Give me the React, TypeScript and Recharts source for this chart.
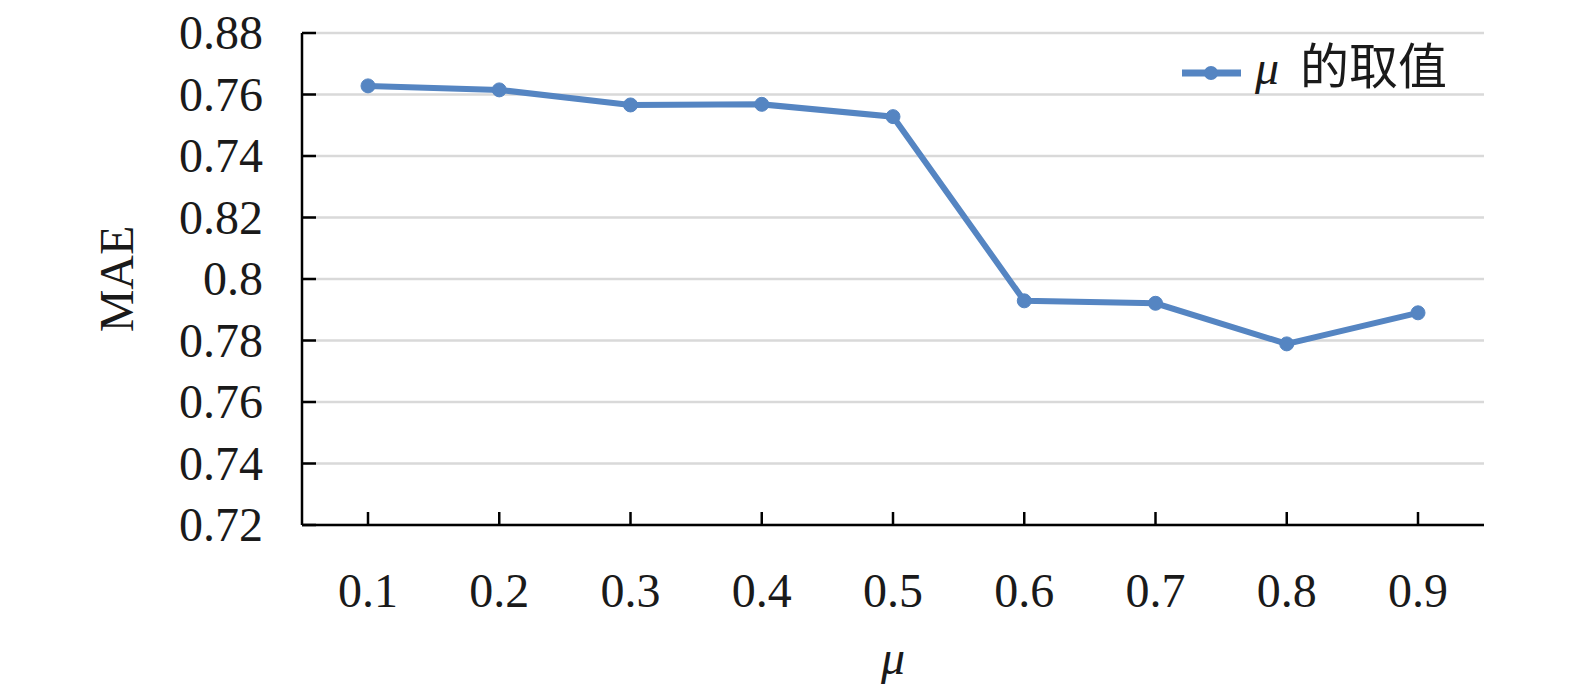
import React from 'react';
import { LineChart, Line, XAxis, YAxis, CartesianGrid } from 'recharts';

const muValues = ['0.1', '0.2', '0.3', '0.4', '0.5', '0.6', '0.7', '0.8', '0.9'];
const maeValues = [0.8628, 0.8615, 0.8566, 0.8568, 0.8528, 0.7929, 0.7921, 0.7789, 0.789];
const yTicks = [0.72, 0.74, 0.76, 0.78, 0.8, 0.82, 0.84, 0.86, 0.88];
const yTickLabels = ['0.72', '0.74', '0.76', '0.78', '0.8', '0.82', '0.74', '0.76', '0.88'];
const seriesName = 'μ 的取值';

const data = muValues.map((mu, i) => ({ mu, mae: maeValues[i] }));

const COLOR = '#5585c2';
const SERIF = '"Liberation Serif", "Times New Roman", serif';

const YTick = (props: any) => {
  const { x, y, index } = props;
  return (
    <g>
      <line x1={x} x2={x + 14} y1={y} y2={y} stroke="#000" strokeWidth={2.5} />
      <text x={x - 39} y={y + 16} textAnchor="end" fontFamily={SERIF} fontSize={48} fill="#1a1a1a">
        {yTickLabels[index]}
      </text>
    </g>
  );
};

const XTick = (props: any) => {
  const { x, y, payload } = props;
  return (
    <g>
      <line x1={x} x2={x} y1={y} y2={y - 13} stroke="#000" strokeWidth={2.5} />
      <text x={x} y={y + 82} textAnchor="middle" fontFamily={SERIF} fontSize={48} fill="#1a1a1a">
        {payload.value}
      </text>
    </g>
  );
};

const LegendBox = () => (
  <svg
    width={360}
    height={100}
    style={{ position: 'absolute', left: 1170, top: 20, display: 'block', pointerEvents: 'none', overflow: 'visible' }}
  >
    <line x1={12} x2={71} y1={53} y2={53} stroke={COLOR} strokeWidth={7} />
    <circle cx={41} cy={53} r={7} fill={COLOR} />
    <text x={85} y={64} fontSize={48} fill="#1a1a1a">
      <tspan fontFamily={SERIF} fontStyle="italic">{seriesName.charAt(0)}</tspan>
      <tspan dx={21} fontFamily='"Noto Sans CJK SC", sans-serif' fontSize={49}>{seriesName.slice(2)}</tspan>
    </text>
  </svg>
);

export default function App() {
  return (
    <div style={{ position: 'absolute', left: 0, top: 0, width: 1575, height: 690, background: '#fff' }}>
      <LineChart width={1575} height={690} data={data} margin={{ top: 33, right: 91, left: 0, bottom: 0 }}>
        <CartesianGrid horizontal vertical={false} stroke="#d9d9d9" strokeWidth={2.5} />
        <XAxis
          dataKey="mu"
          type="category"
          height={165}
          padding={{ left: 66, right: 66 }}
          axisLine={{ stroke: '#000', strokeWidth: 2.5 }}
          tickLine={false}
          tickSize={0}
          tickMargin={0}
          tick={<XTick />}
          interval={0}
          label={(p: any) => {
            const vb = p.viewBox || {};
            return (
              <text
                x={vb.x + vb.width / 2}
                y={vb.y + 149}
                textAnchor="middle"
                fontFamily={SERIF}
                fontStyle="italic"
                fontSize={48}
                fill="#1a1a1a"
              >
                μ
              </text>
            );
          }}
        />
        <YAxis
          type="number"
          domain={[0.72, 0.88]}
          ticks={yTicks}
          interval={0}
          width={302}
          axisLine={{ stroke: '#000', strokeWidth: 2.5 }}
          tickLine={false}
          tickSize={0}
          tickMargin={0}
          tick={<YTick />}
          label={(p: any) => {
            const vb = p.viewBox || {};
            const cx = 116;
            const cy = vb.y + vb.height / 2;
            return (
              <text
                x={cx}
                y={cy}
                textAnchor="middle"
                dominantBaseline="central"
                transform={`rotate(-90, ${cx}, ${cy})`}
                fontFamily={SERIF}
                fontSize={48}
                fill="#1a1a1a"
              >
                MAE
              </text>
            );
          }}
        />
        <Line
          type="linear"
          dataKey="mae"
          name={seriesName}
          stroke={COLOR}
          strokeWidth={6}
          dot={{ r: 7, fill: COLOR, stroke: COLOR, strokeWidth: 1 }}
          activeDot={false}
          isAnimationActive={false}
        />
      </LineChart>
      <LegendBox />
    </div>
  );
}
